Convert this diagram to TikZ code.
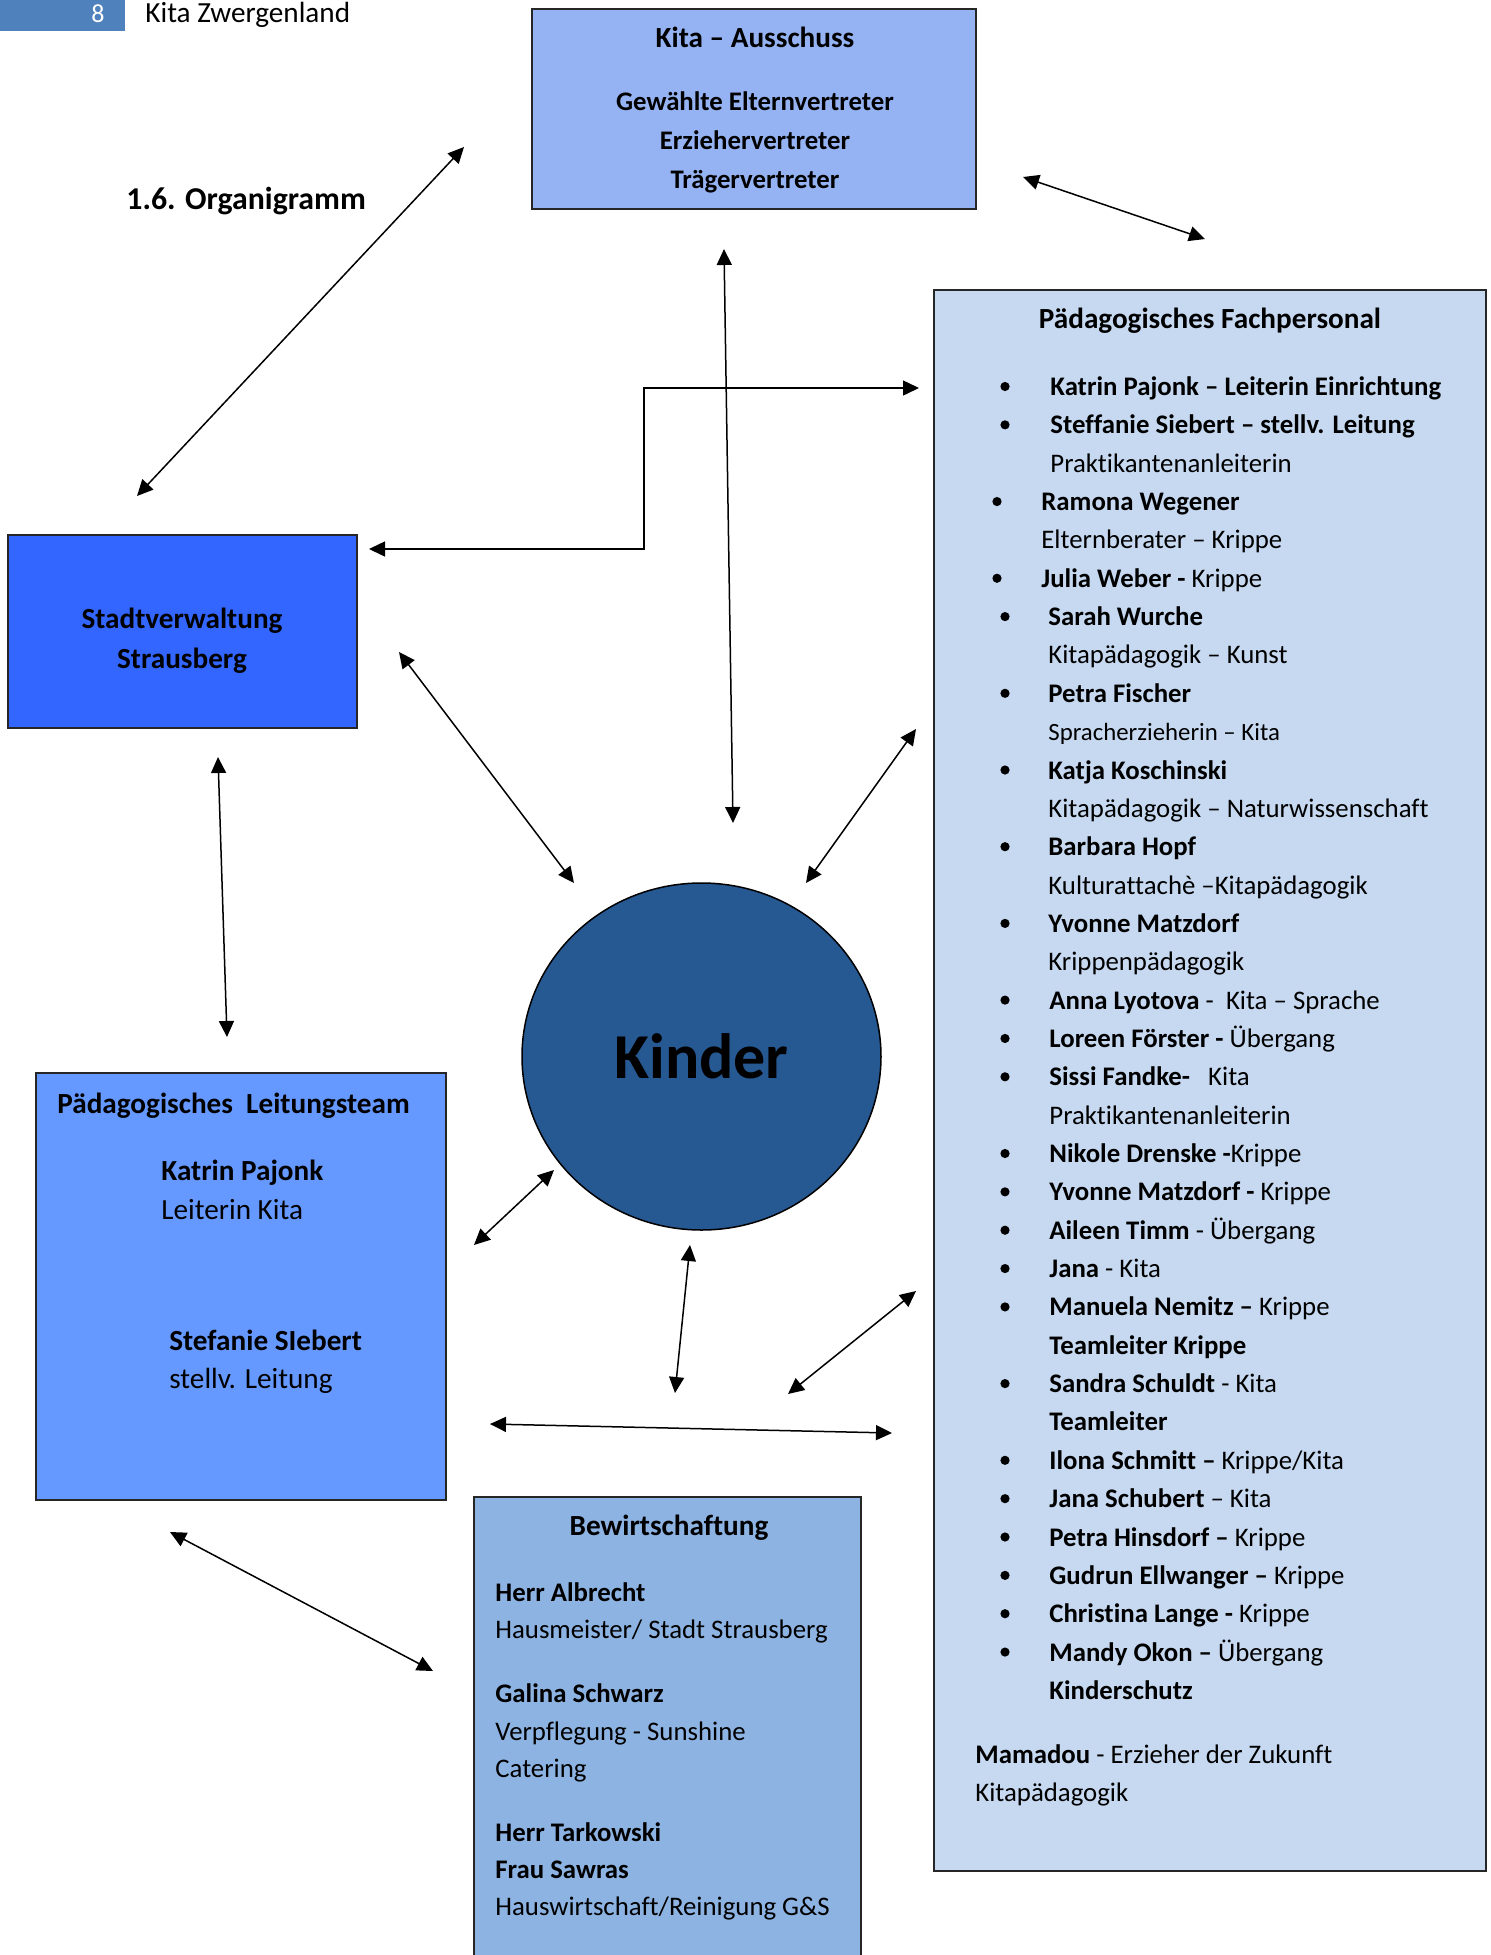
\documentclass[tikz,border=0pt]{standalone}
\usepackage{fontspec}
\setmainfont{Carlito}[Ligatures=NoCommon]
\usepackage{tikz}
\usetikzlibrary{arrows.meta}
\usetikzlibrary{shapes.geometric}
\definecolor{kopfblau}{HTML}{4F81BD}
\definecolor{ausblau}{HTML}{95B3F3}
\definecolor{stadtblau}{HTML}{3366FF}
\definecolor{leitblau}{HTML}{6699FF}
\definecolor{fachblau}{HTML}{C6D9F1}
\definecolor{bewblau}{HTML}{8DB3E2}
\definecolor{kinderblau}{HTML}{265892}
\newcommand{\fnorm}{\fontsize{13.4}{19}\selectfont}
\newcommand{\fbig}{\fontsize{14.6}{20}\selectfont}
\newcommand{\fsmall}{\fontsize{12.4}{18}\selectfont}
\tikzstyle{box}=[rectangle, draw=black!85, line width=1pt, inner sep=0pt]
\tikzstyle{ttl}=[inner sep=0pt, anchor=base, font=\fbig\bfseries]
\tikzstyle{ctr}=[inner sep=0pt, anchor=base, font=\fnorm\bfseries]
\tikzstyle{txt}=[inner sep=0pt, anchor=base west, font=\fnorm]
\tikzstyle{link}=[{Triangle[length=8pt,width=7.5pt]}-{Triangle[length=8pt,width=7.5pt]}, line width=0.75pt]
\begin{document}
\begin{tikzpicture}[x=0.5pt, y=-0.5pt]
	\useasboundingbox (0,0) rectangle (1491,1955);

	%The page head
	\draw (62.5,15.5) node[rectangle, fill=kopfblau, inner sep=0pt, minimum width=62.5pt, minimum height=15.5pt] (kopf) {};
	\draw (98,22) node[inner sep=0pt, anchor=base, text=white, font=\fontsize{13}{16}\selectfont] (seite) {8};
	\draw (145,22) node[inner sep=0pt, anchor=base west, font=\fbig] (kita) {Kita Zwergenland};
	\draw (126,209) node[inner sep=0pt, anchor=base west, font=\fontsize{15.9}{20}\selectfont\bfseries] (titel) {1.6. Organigramm};

	%The boxes
	\draw (754,109) node[box, fill=ausblau, minimum width=222pt, minimum height=100pt] (aus) {};
	\draw (1210,1080.5) node[box, fill=fachblau, minimum width=276pt, minimum height=790.5pt] (fach) {};
	\draw (182.5,631.5) node[box, fill=stadtblau, minimum width=174.5pt, minimum height=96.5pt] (stadt) {};
	\draw (241,1286.5) node[box, fill=leitblau, minimum width=205pt, minimum height=213.5pt] (leit) {};
	\draw (667.5,1736) node[box, fill=bewblau, minimum width=193.5pt, minimum height=239pt] (bew) {};
	\draw (701.5,1056.5) node[ellipse, draw, fill=kinderblau, line width=0.75pt, inner sep=0pt, minimum width=179.5pt, minimum height=173.5pt, font=\fontsize{32}{38}\selectfont\bfseries] (kinder) {Kinder};

	%Kita - Ausschuss
	\draw (755,47) node[ttl] (ausT) {Kita – Ausschuss};
	\draw (755,110) node[ctr] (aus1) {Gewählte Elternvertreter};
	\draw (755,149) node[ctr] (aus2) {Erziehervertreter};
	\draw (755,188) node[ctr] (aus3) {Trägervertreter};

	%Stadtverwaltung
	\draw (182,628) node[ttl] (stadt1) {Stadtverwaltung};
	\draw (182,668) node[ttl] (stadt2) {Strausberg};

	%Leitungsteam
	\draw (57,1113) node[ttl, anchor=base west] (leitT) {Pädagogisches~~Leitungsteam};
	\draw (161,1180) node[txt, font=\fbig\bfseries] (leit1) {Katrin Pajonk};
	\draw (161,1219) node[txt, font=\fbig] (leit2) {Leiterin Kita};
	\draw (169,1350) node[txt, font=\fbig\bfseries] (leit3) {Stefanie SIebert};
	\draw (169,1388) node[txt, font=\fbig] (leit4) {stellv. Leitung};

	%Bewirtschaftung
	\draw (669,1535) node[ttl] (bewT) {Bewirtschaftung};
	\draw (495,1601) node[txt] (bew1) {\textbf{Herr Albrecht}};
	\draw (495,1638) node[txt] (bew2) {Hausmeister/ Stadt Strausberg};
	\draw (495,1702) node[txt] (bew3) {\textbf{Galina Schwarz}};
	\draw (495,1740) node[txt] (bew4) {Verpflegung - Sunshine};
	\draw (495,1777) node[txt] (bew5) {Catering};
	\draw (495,1841) node[txt] (bew6) {\textbf{Herr Tarkowski}};
	\draw (495,1878) node[txt] (bew7) {\textbf{Frau Sawras}};
	\draw (495,1915) node[txt] (bew8) {Hauswirtschaft/Reinigung G\&S};

	%Fachpersonal
	\draw (1210,328) node[ttl] (fachT) {Pädagogisches Fachpersonal};
	\foreach \bx/\tx/\t [count=\i from 0] in {
		1005/1050/{\textbf{Katrin Pajonk – Leiterin Einrichtung}},
		1005/1050/{\textbf{Steffanie Siebert – stellv. Leitung}},
		0/1050/{Praktikantenanleiterin},
		997/1041/{\textbf{Ramona Wegener}},
		0/1041/{Elternberater – Krippe},
		997/1041/{\textbf{Julia Weber -} Krippe},
		1005/1048/{\textbf{Sarah Wurche}},
		0/1048/{Kitapädagogik – Kunst},
		1005/1048/{\textbf{Petra Fischer}},
		0/1048/{{\fsmall Spracherzieherin – Kita}},
		1005/1048/{\textbf{Katja Koschinski}},
		0/1048/{Kitapädagogik – Naturwissenschaft},
		1005/1048/{\textbf{Barbara Hopf}},
		0/1048/{Kulturattachè –Kitapädagogik},
		1005/1048/{\textbf{Yvonne Matzdorf}},
		0/1048/{Krippenpädagogik},
		1005/1049/{\textbf{Anna Lyotova} -~~Kita – Sprache},
		1005/1049/{\textbf{Loreen Förster -} Übergang},
		1005/1049/{\textbf{Sissi Fandke-}~~~Kita},
		0/1049/{Praktikantenanleiterin},
		1005/1049/{\textbf{Nikole Drenske -}Krippe},
		1005/1049/{\textbf{Yvonne Matzdorf -} Krippe},
		1005/1049/{\textbf{Aileen Timm} - Übergang},
		1005/1049/{\textbf{Jana} - Kita},
		1005/1049/{\textbf{Manuela Nemitz –} Krippe},
		0/1049/{\textbf{Teamleiter Krippe}},
		1005/1049/{\textbf{Sandra Schuldt} - Kita},
		0/1049/{\textbf{Teamleiter}},
		1005/1049/{\textbf{Ilona Schmitt –} Krippe/Kita},
		1005/1049/{\textbf{Jana Schubert} – Kita},
		1005/1049/{\textbf{Petra Hinsdorf –} Krippe},
		1005/1049/{\textbf{Gudrun Ellwanger –} Krippe},
		1005/1049/{\textbf{Christina Lange -} Krippe},
		1005/1049/{\textbf{Mandy Okon –} Übergang},
		0/1049/{\textbf{Kinderschutz}}}
	{
		\pgfmathsetmacro{\yy}{386.5+38.35*\i}
		\ifnum\bx>0 \fill (\bx,\yy) circle (2.3pt); \fi
		\draw (\tx,\yy+9) node[txt] (f\i) {\t};
	}
	\draw (975,1763) node[txt] (mama1) {\textbf{Mamadou} - Erzieher der Zukunft};
	\draw (975,1801) node[txt] (mama2) {Kitapädagogik};

	%The arrow ends
	\coordinate (ausSW) at (464,147);
	\coordinate (stadtN) at (137,496);
	\coordinate (ausE) at (1023,177);
	\coordinate (fachN) at (1205,239);
	\coordinate (ausS) at (724,249);
	\coordinate (kinderN) at (733,823);
	\coordinate (stadtE) at (369,549);
	\coordinate (knick) at (644,470);
	\coordinate (fachW) at (919,388);
	\coordinate (stadtSE) at (399,652);
	\coordinate (kinderNW) at (574,883);
	\coordinate (fachSW) at (916,729);
	\coordinate (kinderNE) at (806,883);
	\coordinate (stadtS) at (218,757);
	\coordinate (leitN) at (227,1037);
	\coordinate (leitNE) at (474,1245);
	\coordinate (kinderSW) at (554,1170);
	\coordinate (kinderS) at (690,1245);
	\coordinate (bewN) at (675,1393);
	\coordinate (fachW2) at (916,1291);
	\coordinate (bewNE) at (788,1394);
	\coordinate (leitE) at (490,1424);
	\coordinate (fachW3) at (892,1433);
	\coordinate (leitS) at (170,1532);
	\coordinate (bewW) at (433,1671);

	%The arrows
	\draw[link] (ausSW) -- (stadtN);
	\draw[link] (ausE) -- (fachN);
	\draw[link] (ausS) -- (kinderN);
	\draw[link] (stadtE) -| (knick) |- (fachW);
	\draw[link] (stadtSE) -- (kinderNW);
	\draw[link] (fachSW) -- (kinderNE);
	\draw[link] (stadtS) -- (leitN);
	\draw[link] (leitNE) -- (kinderSW);
	\draw[link] (kinderS) -- (bewN);
	\draw[link] (fachW2) -- (bewNE);
	\draw[link] (leitE) -- (fachW3);
	\draw[link] (leitS) -- (bewW);
\end{tikzpicture}
\end{document}
